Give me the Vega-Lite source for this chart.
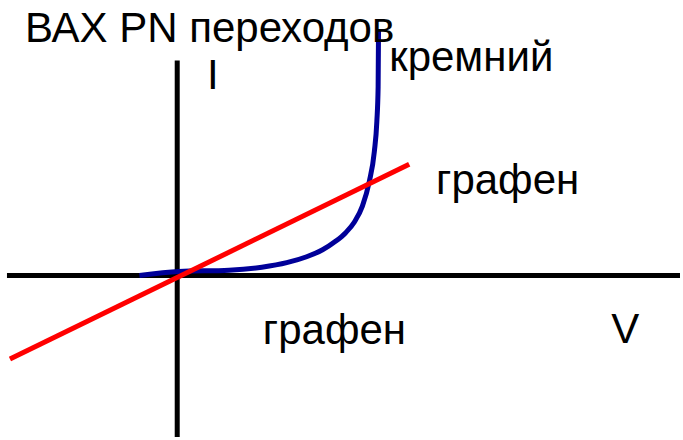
{
  "$schema": "https://vega.github.io/schema/vega-lite/v6.json",
  "width": 683,
  "height": 440,
  "autosize": {"type": "fit", "contains": "padding"},
  "padding": 0,
  "background": "white",
  "config": {"view": {"stroke": null}},
  "datasets": {
    "axes": [
      {"x1": -1.71, "x2": 5.05, "y1": 0, "y2": 0},
      {"x1": 0, "x2": 0, "y1": 2.165, "y2": -1.625}
    ],
    "curves": [
      {"series": "кремний", "V": -0.38, "I": 0.002},
      {"series": "кремний", "V": 0.02, "I": 0.042},
      {"series": "кремний", "V": 0.52, "I": 0.055},
      {"series": "кремний", "V": 0.85, "I": 0.085},
      {"series": "кремний", "V": 1.10, "I": 0.13},
      {"series": "кремний", "V": 1.30, "I": 0.19},
      {"series": "кремний", "V": 1.46, "I": 0.26},
      {"series": "кремний", "V": 1.59, "I": 0.345},
      {"series": "кремний", "V": 1.69, "I": 0.43},
      {"series": "кремний", "V": 1.78, "I": 0.54},
      {"series": "кремний", "V": 1.86, "I": 0.70},
      {"series": "кремний", "V": 1.93, "I": 0.95},
      {"series": "кремний", "V": 1.98, "I": 1.25},
      {"series": "кремний", "V": 2.005, "I": 1.55},
      {"series": "кремний", "V": 2.018, "I": 1.90},
      {"series": "кремний", "V": 2.022, "I": 2.475},
      {"series": "графен", "V": -1.68, "I": -0.84},
      {"series": "графен", "V": 2.33, "I": 1.12}
    ],
    "labels": [
      {"V": -1.53, "I": 2.355, "text": "ВАХ PN переходов"},
      {"V": 0.30, "I": 1.875, "text": "I"},
      {"V": 2.13, "I": 2.058, "text": "кремний"},
      {"V": 2.60, "I": 0.825, "text": "графен"},
      {"V": 0.86, "I": -0.685, "text": "графен"},
      {"V": 4.36, "I": -0.675, "text": "V"}
    ]
  },
  "layer": [
    {
      "data": {"name": "axes"},
      "mark": {"type": "rule", "color": "black", "strokeWidth": 5},
      "encoding": {
        "x": {"field": "x1", "type": "quantitative", "scale": {"domain": [-1.78, 5.05], "nice": false, "zero": false}, "axis": null},
        "x2": {"field": "x2"},
        "y": {"field": "y1", "type": "quantitative", "scale": {"domain": [-1.625, 2.775], "nice": false, "zero": false}, "axis": null},
        "y2": {"field": "y2"}
      }
    },
    {
      "data": {"name": "curves"},
      "mark": {"type": "line", "strokeWidth": 5, "interpolate": "monotone"},
      "encoding": {
        "x": {"field": "V", "type": "quantitative"},
        "y": {"field": "I", "type": "quantitative"},
        "color": {"field": "series", "type": "nominal", "scale": {"domain": ["кремний", "графен"], "range": ["#000099", "#ff0000"]}, "legend": null},
        "order": {"field": "V", "type": "quantitative"}
      }
    },
    {
      "data": {"name": "labels"},
      "mark": {"type": "text", "align": "left", "baseline": "alphabetic", "font": "Liberation Sans", "fontSize": 42, "color": "black"},
      "encoding": {
        "x": {"field": "V", "type": "quantitative"},
        "y": {"field": "I", "type": "quantitative"},
        "text": {"field": "text"}
      }
    }
  ]
}
